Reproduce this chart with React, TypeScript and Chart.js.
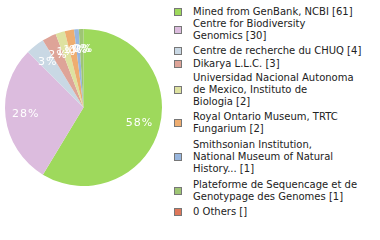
import React, { useEffect, useRef } from "react";
import { Chart, registerables } from "chart.js";

Chart.register(...registerables);

const categories = [
  "Mined from GenBank, NCBI",
  "Centre for Biodiversity Genomics",
  "Centre de recherche du CHUQ",
  "Dikarya L.L.C.",
  "Universidad Nacional Autonoma de Mexico, Instituto de Biologia",
  "Royal Ontario Museum, TRTC Fungarium",
  "Smithsonian Institution, National Museum of Natural History...",
  "Plateforme de Sequencage et de Genotypage des Genomes",
  "0 Others",
];
const legendLines = [
  ["Mined from GenBank, NCBI [61]"],
  ["Centre for Biodiversity", "Genomics [30]"],
  ["Centre de recherche du CHUQ [4]"],
  ["Dikarya L.L.C. [3]"],
  ["Universidad Nacional Autonoma", "de Mexico, Instituto de", "Biologia [2]"],
  ["Royal Ontario Museum, TRTC", "Fungarium [2]"],
  ["Smithsonian Institution,", "National Museum of Natural", "History... [1]"],
  ["Plateforme de Sequencage et de", "Genotypage des Genomes [1]"],
  ["0 Others []"],
];
const values = [61, 30, 4, 3, 2, 2, 1, 1, 0];
const colors = [
  "#9ed95c",
  "#dcbcde",
  "#c9d8e4",
  "#dea498",
  "#dee2a0",
  "#eead70",
  "#98b6de",
  "#9ec574",
  "#de775a",
];

const labelPlugin = {
  id: "pctLabels",
  afterDatasetsDraw(chart: any) {
    const ctx = chart.ctx;
    const meta = chart.getDatasetMeta(0);
    const data = chart.data.datasets[0].data as number[];
    const total = data.reduce((a, b) => a + b, 0);
    ctx.save();
    ctx.fillStyle = "#ffffff";
    ctx.font = "11px 'DejaVu Sans'";
    (ctx as any).letterSpacing = "1px";
    ctx.textAlign = "center";
    ctx.textBaseline = "middle";
    meta.data.forEach((arc: any, i: number) => {
      const p = arc.getProps(["x", "y", "startAngle", "endAngle", "outerRadius"], true);
      const mid = (p.startAngle + p.endAngle) / 2;
      const r = p.outerRadius * 0.74;
      const pct = Math.floor((data[i] / total) * 100);
      ctx.fillText(pct + "%", p.x + Math.cos(mid) * r, p.y + Math.sin(mid) * r);
    });
    ctx.restore();
  },
};

export default function App() {
  const ref = useRef<HTMLCanvasElement | null>(null);
  useEffect(() => {
    document.body.style.margin = "0";
    if (!ref.current) return;
    const chart = new Chart(ref.current, {
      type: "pie",
      data: {
        labels: categories,
        datasets: [
          {
            data: values,
            backgroundColor: colors,
            borderWidth: 0,
          },
        ],
      },
      options: {
        animation: false,
        responsive: false,
        layout: { padding: { left: 5, right: 8, top: 29, bottom: 54 } },
        plugins: { legend: { display: false }, tooltip: { enabled: false } },
      },
      plugins: [labelPlugin],
    });
    return () => chart.destroy();
  }, []);

  const tops = [6, 18, 45, 58, 72, 111, 139, 179, 206];
  return (
    <div style={{ position: "relative", width: 380, height: 240, background: "#fff" }}>
      <canvas ref={ref} width={170} height={240} style={{ position: "absolute", left: 0, top: 0 }} />
      {legendLines.map((lines, i) => (
        <div
          key={i}
          style={{
            position: "absolute",
            left: 174,
            top: tops[i],
            display: "flex",
            alignItems: "center",
            fontFamily: "'DejaVu Sans', sans-serif",
            fontSize: 10,
            lineHeight: "12px",
            color: "#222",
          }}
        >
          <div
            style={{
              width: 6,
              height: 6,
              border: "1px solid #777",
              background: colors[i],
              marginRight: 11,
              flexShrink: 0,
            }}
          />
          <div style={{ whiteSpace: "nowrap" }}>
            {lines.map((l, j) => (
              <div key={j}>{l}</div>
            ))}
          </div>
        </div>
      ))}
    </div>
  );
}
